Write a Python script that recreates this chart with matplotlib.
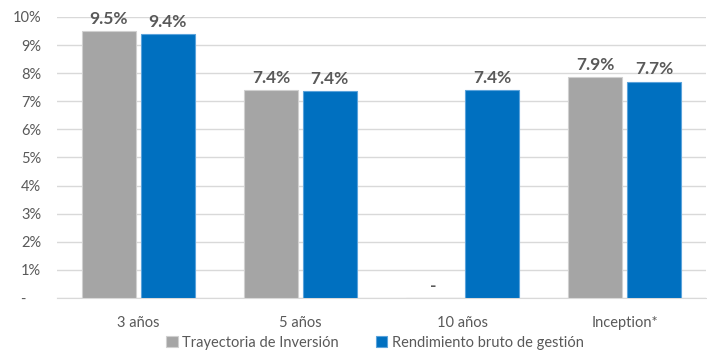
import matplotlib.pyplot as plt
import numpy as np

categories = ["3 años", "5 años", "10 años", "Inception*"]
trayectoria = [9.5, 7.4, None, 7.85]
rendimiento = [9.4, 7.35, 7.4, 7.7]
tray_labels = ["9.5%", "7.4%", "-", "7.9%"]
rend_labels = ["9.4%", "7.4%", "7.4%", "7.7%"]
series_names = ["Trayectoria de Inversión", "Rendimiento bruto de gestión"]
ytick_labels = ["-    "] + [f"{i}%" for i in range(1, 11)]

plt.rcParams['font.family'] = ['Lato', 'DejaVu Sans']
text_color = "#595959"

fig = plt.figure(figsize=(7.07, 3.53), dpi=100)
ax = fig.add_axes([0.081, 0.156, 0.917, 0.796])

x = np.arange(len(categories))
w = 0.333
gap = 0.015
tv = [v if v is not None else 0 for v in trayectoria]
b1 = ax.bar(x - w / 2 - gap, tv, w, color="#A5A5A5", edgecolor="#D0D0D0",
            linewidth=0.8, label=series_names[0], zorder=3)
b2 = ax.bar(x + w / 2 + gap, rendimiento, w, color="#0070C0", edgecolor="#5BA3DB",
            linewidth=0.8, label=series_names[1], zorder=3)

for xi, v, lab in zip(x - w / 2 - gap, tv, tray_labels):
    ax.text(xi, v + 0.15, lab, ha="center", va="bottom", fontsize=12.5,
            fontweight="bold", color=text_color)
for xi, v, lab in zip(x + w / 2 + gap, rendimiento, rend_labels):
    ax.text(xi, v + 0.15, lab, ha="center", va="bottom", fontsize=12.5,
            fontweight="bold", color=text_color)

ax.set_xlim(-0.5, len(categories) - 0.5)
ax.set_ylim(0, 10)
ax.set_yticks(range(0, 11))
ax.set_yticklabels(ytick_labels)
ax.set_xticks(x)
ax.set_xticklabels(categories)
ax.tick_params(axis="both", length=0, labelsize=10.5, colors=text_color)
ax.tick_params(axis="x", pad=13)
ax.tick_params(axis="y", pad=11.5)

ax.grid(axis="y", color="#D9D9D9", linewidth=1, zorder=0)
for s in ["top", "right", "left"]:
    ax.spines[s].set_visible(False)
ax.spines["bottom"].set_color("#D9D9D9")

ax.legend(loc="center", bbox_to_anchor=(0.49, -0.16), ncol=2, frameon=False,
          fontsize=10.5, labelcolor=text_color, handlelength=0.8, handleheight=0.8,
          handletextpad=0.3, columnspacing=2.5, borderaxespad=0)

fig.savefig("out.png", dpi=100)
